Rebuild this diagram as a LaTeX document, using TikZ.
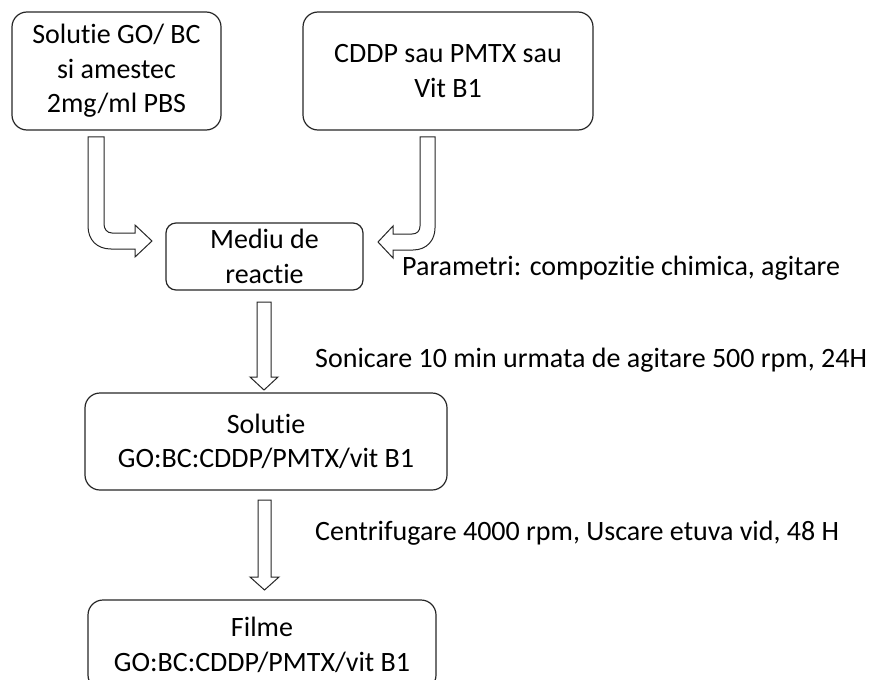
\documentclass[tikz,border=0pt]{standalone}
\usepackage{fontspec}
\setmainfont{Carlito}[RawFeature={-liga}]
\begin{document}
\begin{tikzpicture}[x=1pt,y=-1pt,
  box/.style={draw=black!85, line width=1.2pt, rounded corners=15pt, align=center, inner sep=0pt, font=\fontsize{28}{34.5}\selectfont},
  lbl/.style={anchor=west, inner sep=0pt, font=\fontsize{28}{34.5}\selectfont},
  blockarrow/.style={draw=black!85, line width=1pt, fill=white, line join=miter}]
\useasboundingbox (0,0) rectangle (882,679);
\clip (0,0) rectangle (882,679);
\node[box, minimum width=209pt, minimum height=118pt] (b1) at (116.5,71) {Solutie GO/ BC\\si amestec\\2mg/ml PBS};
\node[box, minimum width=290pt, minimum height=118pt] (b2) at (448,71) {CDDP sau PMTX sau\\Vit B1};
\node[box, rounded corners=10pt, minimum width=197pt, minimum height=67pt] (med) at (264.5,256.5) {Mediu de\\reactie};
\node[box, minimum width=362pt, minimum height=97pt] (sol) at (266,441.5) {Solutie\\GO:BC:CDDP/PMTX/vit B1};
\node[box, minimum width=348pt, minimum height=90pt] (fil) at (262,645) {Filme\\GO:BC:CDDP/PMTX/vit B1};
\node[lbl] (p) at (402,268) {Parametri: compozitie chimica, agitare};
\node[lbl] (s) at (315,360) {Sonicare 10 min urmata de agitare 500 rpm, 24H};
\node[lbl] (c) at (315,533) {Centrifugare 4000 rpm, Uscare etuva vid, 48 H};
% left bent arrow
\draw[blockarrow] (88,137) -- (104,137) -- (104,224) .. controls (104,229) and (107,233) .. (112,233) -- (135,233) -- (135,225) -- (152,241) -- (135,257) -- (135,249) -- (111,249) .. controls (97,249) and (88,240) .. (88,226) -- cycle;
% right bent arrow
\draw[blockarrow] (420,137) -- (435,137) -- (435,228) .. controls (435,240) and (427,250) .. (413,250) -- (393,250) -- (393,258) -- (378,242) -- (393,226) -- (393,234) -- (412,234) .. controls (417,234) and (420,231) .. (420,226) -- cycle;
% vertical arrows
\draw[blockarrow] (257,302) -- (271,302) -- (271,377) -- (278,377) -- (264,390) -- (250,377) -- (257,377) -- cycle;
\draw[blockarrow] (258,500) -- (271,500) -- (271,577) -- (279,577) -- (264.5,590) -- (250,577) -- (258,577) -- cycle;
\end{tikzpicture}
\end{document}
